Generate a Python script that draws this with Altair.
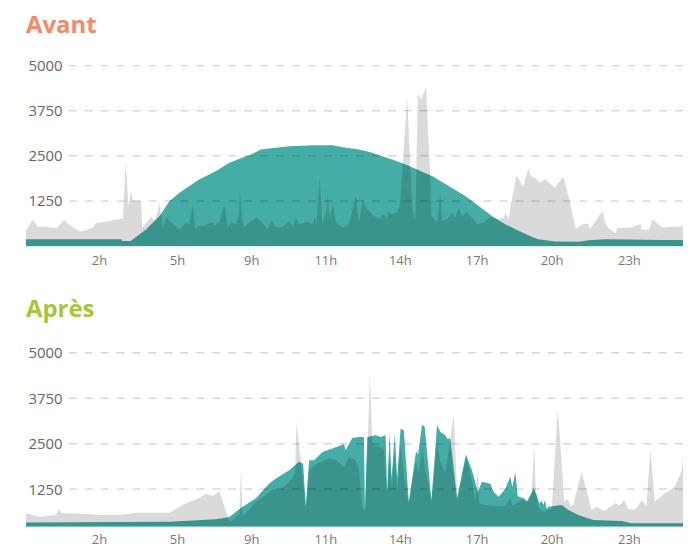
import altair as alt
import pandas as pd

# ---- axis content ----------------------------------------------------------
# x is the sample position along the day; tick labels as shown on the chart
TICK_POS = [73.3, 151.5, 226.0, 300.2, 375.0, 452.0, 527.2, 604.7]
TICK_LABELS = ["2h", "5h", "9h", "11h", "14h", "17h", "20h", "23h"]
GRID_VALUES = [1250, 2500, 3750, 5000]

# ---- "Avant" ---------------------------------------------------------------
AVANT_CONSO_X = [0, 6.7, 12.3, 19, 30.7, 38.3, 44, 53.3, 57.3, 67.3, 70, 74, 95.7, 97.3,
                 100, 102.7, 105.5, 107, 109, 114, 115.5, 116.7, 125.7, 129, 132, 134,
                 137.3, 140.7, 147.3, 154, 160.7, 164, 167.3, 170, 172.3, 179, 187.3, 189,
                 194, 199, 202.3, 205.7, 210.7, 213.3, 214.7, 216.7, 218.3, 224, 230.7,
                 235.7, 242.3, 246.7, 250, 257.3, 264, 267.3, 270.7, 274, 282.3, 287.3, 290,
                 291.3, 294.7, 297.3, 300.7, 302.3, 304.7, 308, 310.7, 317.3, 324, 330.7,
                 334, 338, 340.7, 349, 355.7, 357.3, 362.3, 364, 365.7, 372.3, 375.3, 378,
                 382.3, 387.7, 390.5, 393, 396.3, 401.3, 405.3, 406.7, 412.3, 415.7, 417.3,
                 422.3, 427.3, 430.7, 434, 437.3, 442.3, 447.3, 452.3, 459, 465.3, 473.7,
                 479.3, 481, 483.7, 492, 498.7, 503.7, 506.3, 510.3, 515.7, 520.7, 530.5,
                 539, 545.3, 551.5, 558, 564, 565.5, 578.3, 581, 584, 591.2, 593.2, 607.2,
                 616.5, 617.5, 625, 628.3, 638, 658.5, 667]
AVANT_CONSO_W = [422, 726, 533, 544, 497, 718, 580, 414, 411, 516, 635, 650, 764, 770,
                 2340, 1112, 1526, 1300, 1240, 1250, 1200, 500, 820, 700, 950, 1204,
                 470, 791, 610, 469, 653, 607, 1159, 469, 561, 561, 671, 561,
                 653, 1159, 515, 653, 607, 837, 1435, 837, 515, 653, 791,
                 699, 469, 745, 515, 515, 699, 515, 764, 607, 671, 607, 837,
                 561, 1896, 607, 929, 1435, 791, 1159, 653, 515, 607, 1389,
                 653, 1297, 1067, 837, 745, 883, 791, 975, 883, 929, 1200, 2300,
                 4140, 930, 700, 4240, 4050, 4400, 2040, 840, 653, 1481, 699,
                 745, 929, 791, 1067, 837, 929, 791, 607, 653, 791, 745,
                 791, 929, 745, 1960, 1637, 2144, 1940, 1900, 1758, 1850, 1620,
                 1930, 1250, 469, 600, 635, 469, 975, 640, 500, 350, 500, 515,
                 610, 450, 450, 745, 515, 550, 791]
AVANT_PROD_X = [0, 96, 96.5, 105, 120.7, 134, 144, 154, 164, 174, 177.3, 190.7, 204,
                220.7, 224, 232.3, 235.7, 244, 250.7, 264, 290.7, 307.3, 320.7, 334,
                347.3, 357.3, 367.3, 380.7, 392.3, 407.3, 424, 440.7, 454, 467.3, 480.7,
                494, 509, 514, 530.7, 554, 564, 580.7, 604, 637.3, 667]
AVANT_PROD_W = [193, 193, 140, 140, 469, 837, 1250, 1481, 1664, 1849, 1896, 2078, 2310,
                2492, 2511, 2630, 2677, 2705, 2723, 2768, 2796, 2796, 2723, 2677,
                2585, 2492, 2401, 2263, 2125, 1940, 1664, 1388, 1112, 837, 607,
                422, 240, 193, 130, 120, 160, 193, 185, 166, 166]

# ---- "Après" ---------------------------------------------------------------
APRES_CONSO_X = [0, 14, 30, 33.3, 35.7, 60.7, 77, 94, 110.7, 144, 157, 169, 180.7, 187.3,
                 194, 200.7, 204.7, 207, 214, 215.7, 217.3, 219, 230.7, 240.7, 245.7,
                 255.7, 264, 267, 270, 271.3, 280.7, 284, 289, 296, 304, 310.7, 319, 324,
                 330.7, 334, 337, 340, 342.5, 345, 347.5, 351, 355, 359, 362, 364.7,
                 366.7, 370, 372.3, 375.7, 379, 384, 388, 391.3, 394, 397.3, 400, 406.7,
                 412.3, 415.7, 420.7, 424, 429, 433, 437, 441.3, 447.3, 451, 453.3, 454.5,
                 464, 474, 480.7, 485.7, 488, 494, 501, 504, 507.3, 509.7, 511.5, 514,
                 519, 524, 527.3, 533.5, 540, 543.3, 546.7, 549, 557.3, 567.3, 572.3,
                 580, 591.3, 595.7, 600, 604, 610.7, 618, 622.3, 626.3, 630.7, 640.7,
                 650.7, 657.3, 664, 667]
APRES_CONSO_W = [583, 490, 537, 700, 590, 565, 537, 537, 600, 600, 811, 948, 1112, 1058,
                 1200, 627, 353, 400, 537, 1830, 540, 540, 900, 1085, 1222,
                 1250, 1450, 1550, 1700, 3113, 765, 1770, 1907, 2000, 2090, 2060, 1860, 2134,
                 2044, 1800, 800, 650, 2300, 4440, 2500, 2450, 2400, 2350, 1100, 2100,
                 1300, 2200, 1200, 2500, 1600, 850, 1500, 2000, 1700, 2400, 1900, 900,
                 2500, 2000, 1700, 2300, 3300, 900, 1500, 2150, 1500, 900, 1900, 850,
                 800, 780, 800, 1000, 800, 900, 1000, 900, 1200, 2455, 1150, 750,
                 620, 700, 700, 3440, 900, 975, 780, 835, 1724, 674, 765,
                 650, 857, 800, 948, 700, 680, 948, 765, 2318, 901, 1130,
                 1312, 1724, 3230, 3100]
APRES_PROD_X = [0, 144, 190.7, 197, 204, 217.3, 230.7, 244, 250.7, 264, 274, 278, 280.7,
                284, 289, 297.3, 307.3, 319, 320.7, 327.3, 334, 339, 340, 342.3, 350.7,
                355.7, 360.7, 362.3, 364.7, 366.7, 370, 372.3, 375.7, 379, 384, 391.3,
                393.3, 397.3, 400, 406.7, 412.3, 415.7, 420.7, 422.3, 425.7, 432.3, 441.3,
                447.3, 453.3, 457.3, 465.7, 469, 474, 480.7, 485.7, 488, 490.7, 493.3,
                499, 502.3, 507.3, 509, 512, 515, 517, 519, 520.7, 522.3, 524, 537.3,
                544, 554, 569, 597.3, 607.3, 667]
APRES_PROD_W = [330, 350, 420, 450, 480, 765, 995, 1406, 1543, 1770, 2000, 1950, 765,
                2044, 2044, 2271, 2365, 2482, 2318, 2655, 2683, 2683, 674, 2683, 2729,
                2683, 2729, 1175, 2802, 1543, 2775, 1543, 2912, 2870, 901, 2290,
                2200, 3022, 2960, 948, 3003, 2820, 2729, 2638, 2638, 995, 2200,
                1770, 1175, 1450, 1400, 1175, 1038, 1250, 1587, 1300, 1724, 1050,
                995, 900, 1150, 1270, 1100, 850, 930, 820, 940, 700, 765, 811,
                674, 537, 400, 373, 310, 310]

TEAL = "#45ada6"
FONT = "Open Sans"
PLOT_W = 659

label_expr = ("[" + ",".join("'%s'" % t for t in TICK_LABELS) + "][indexof(["
              + ",".join(str(p) for p in TICK_POS) + "], datum.value)]")


def panel(name, color, title_offset, cx, cw, qx, qw, ymin, h, xpad):
    cons = pd.DataFrame({"idx": cx, "w": cw})
    prod = pd.DataFrame({"idx": qx, "w": qw})
    grid = pd.DataFrame({"w": GRID_VALUES})
    x = alt.X("idx:Q", scale=alt.Scale(domain=[0, PLOT_W], nice=False, zero=False),
              axis=alt.Axis(values=TICK_POS, labelExpr=label_expr, title=None, grid=False,
                            ticks=False, tickSize=0, labelPadding=xpad, labelBaseline="middle",
                            labelFontSize=13, labelColor="#777777", labelFont=FONT,
                            domainColor="#d3ebe8", domainWidth=1, zindex=1,
                            labelFlush=False, labelOverlap=False))
    y = alt.Y("w:Q", scale=alt.Scale(domain=[ymin, 5000], nice=False, zero=False),
              axis=alt.Axis(values=GRID_VALUES, format="d", title=None, grid=False,
                            ticks=False, tickSize=0, domain=False, labelPadding=-36.3,
                            labelFontSize=15, labelColor="#666666", labelFont=FONT,
                            labelBaseline="middle", zindex=1, labelFlush=False,
                            labelOverlap=False))
    prod_area = alt.Chart(prod).mark_area(color=TEAL, clip=True).encode(x=x, y=y)
    # consumption: translucent dark veil -> light grey on white, dark teal over production
    cons_area = alt.Chart(cons).mark_area(color="#000000", fillOpacity=0.145, clip=True).encode(
        x=alt.X("idx:Q"), y=alt.Y("w:Q"))
    rules = alt.Chart(grid).mark_rule(strokeDash=[8, 8], color="#000000", opacity=0.16,
                                      strokeWidth=1.5).encode(
        y=alt.Y("w:Q"), x=alt.value(43), x2=alt.value(660))
    return alt.layer(prod_area, cons_area, rules).properties(
        width=PLOT_W, height=h,
        title=alt.TitleParams(text=name, anchor="start", frame="group", fontSize=24,
                              font=FONT, fontWeight="bold", color=color,
                              offset=title_offset, baseline="alphabetic"))


avant = panel("Avant", "#f28a6c", 1.7, AVANT_CONSO_X, AVANT_CONSO_W,
              AVANT_PROD_X, AVANT_PROD_W, 0, 181, 14.3)
apres = panel("Après", "#a5c63b", 5.0, APRES_CONSO_X, APRES_CONSO_W,
              APRES_PROD_X, APRES_PROD_W, 216, 174.4, 12.6)

chart = alt.vconcat(avant, apres, spacing=107, bounds="flush").properties(
    padding={"left": 18, "top": 5, "right": 0, "bottom": 0},
    background="white"
).configure_view(strokeWidth=0, stroke="transparent")

chart.save("out.html", embed_options={"renderer": "svg", "actions": False})
